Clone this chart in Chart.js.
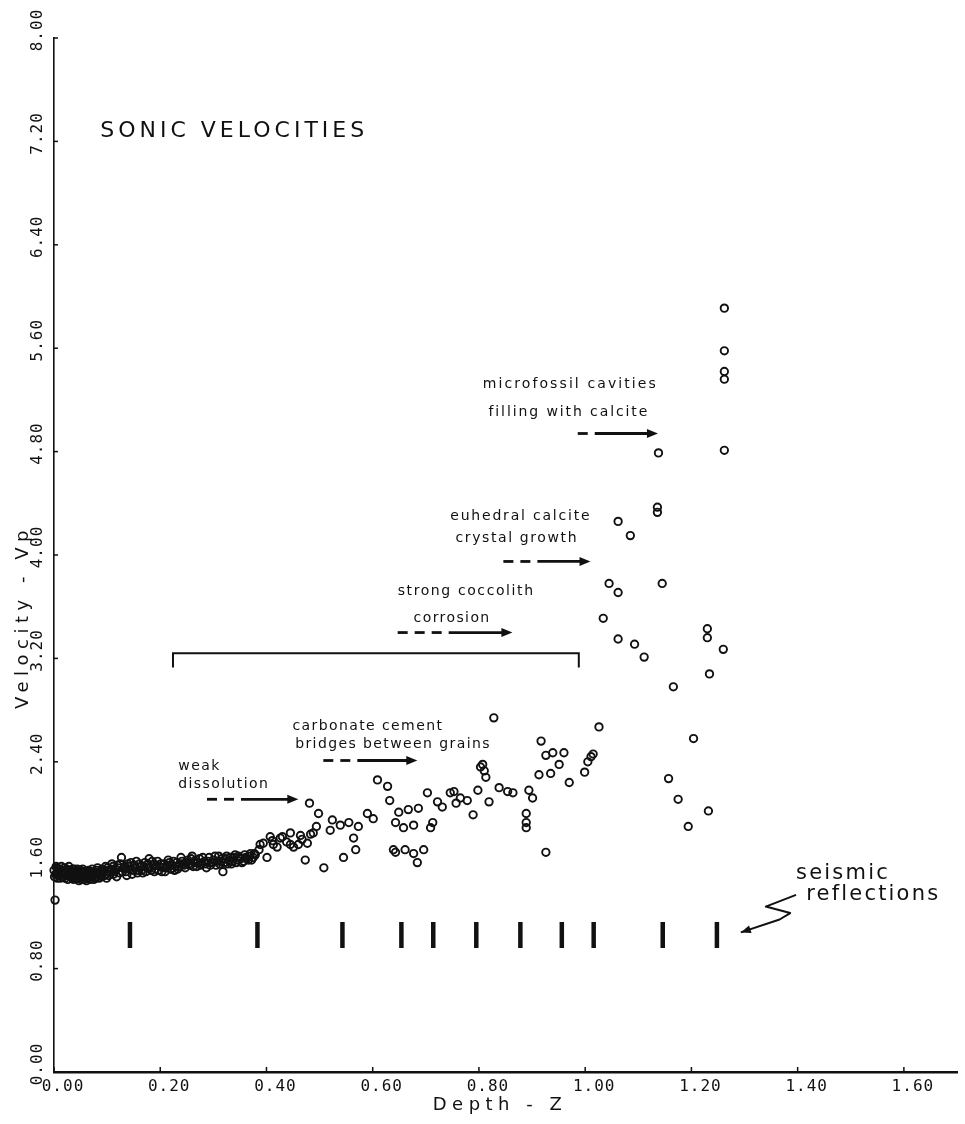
<!DOCTYPE html>
<html>
<head>
<meta charset="utf-8">
<title>Sonic velocities</title>
<script src="https://cdn.jsdelivr.net/npm/chart.js@4.4.1/dist/chart.umd.min.js"></script>
<style>
  html, body { margin: 0; padding: 0; background: #fff; }
  #wrap { width: 965px; height: 1124px; }
</style>
</head>
<body>
<div id="wrap"><canvas id="chart" width="965" height="1124"></canvas></div>
<script>
// Sonic velocity Vp (km/s) against depth Z, grouped by depth interval: [depth, velocity]
const oozeTop = [
  [0.002,1.33],[0.000,1.56],[0.003,1.53],[0.005,1.58],[0.007,1.55],[0.009,1.52],[0.011,1.57],
  [0.013,1.54],[0.016,1.56],[0.018,1.51],[0.020,1.58],[0.022,1.54],[0.025,1.52],[0.027,1.56],
  [0.029,1.53],[0.031,1.55],[0.034,1.50],[0.036,1.54],[0.038,1.57],[0.041,1.52],[0.043,1.55],
  [0.045,1.50],[0.048,1.53],[0.050,1.56],[0.052,1.51],[0.055,1.54],[0.057,1.49],[0.059,1.52],
  [0.062,1.55],[0.064,1.50],[0.066,1.53],[0.069,1.51],[0.071,1.55],[0.073,1.52],[0.076,1.54],
  [0.078,1.50],[0.081,1.56],[0.083,1.53],[0.086,1.55],[0.088,1.52],[0.091,1.57],[0.093,1.54],
  [0.096,1.56],[0.098,1.53],
  [0.001,1.51],[0.004,1.59],[0.006,1.50],[0.008,1.57],[0.012,1.50],[0.014,1.59],[0.017,1.53],
  [0.019,1.56],[0.021,1.50],[0.024,1.57],[0.026,1.49],[0.028,1.59],[0.032,1.51],[0.035,1.57],
  [0.037,1.49],[0.040,1.55],[0.042,1.50],[0.044,1.57],[0.047,1.48],[0.049,1.55],[0.051,1.49],
  [0.054,1.57],[0.056,1.52],[0.058,1.55],[0.061,1.48],[0.063,1.53],[0.065,1.56],[0.068,1.49],
  [0.070,1.53],[0.072,1.57],[0.075,1.49],[0.077,1.53],[0.080,1.51],[0.082,1.58],[0.085,1.50],
  [0.087,1.54],[0.090,1.51],[0.092,1.55],[0.095,1.52],[0.097,1.59],[0.099,1.50]
];
const oozeUpper = [
  [0.101,1.58],[0.105,1.55],[0.109,1.61],[0.112,1.53],[0.116,1.57],[0.120,1.60],[0.123,1.54],
  [0.127,1.66],[0.131,1.58],[0.135,1.55],[0.139,1.61],[0.143,1.57],[0.147,1.53],[0.151,1.60],
  [0.155,1.63],[0.159,1.56],[0.163,1.59],[0.167,1.54],[0.171,1.62],[0.175,1.58],[0.179,1.65],
  [0.183,1.56],[0.187,1.60],[0.191,1.57],[0.195,1.63],[0.199,1.59],[0.203,1.55],[0.207,1.61],
  [0.211,1.58],[0.215,1.64],[0.219,1.57],[0.223,1.60],[0.227,1.56],[0.231,1.62],[0.235,1.59],
  [0.239,1.66],[0.243,1.61],[0.247,1.58],
  [0.103,1.52],[0.107,1.57],[0.111,1.59],[0.114,1.55],[0.118,1.51],[0.122,1.58],[0.125,1.61],
  [0.129,1.55],[0.133,1.59],[0.137,1.52],[0.141,1.59],[0.145,1.62],[0.149,1.56],[0.153,1.58],
  [0.157,1.54],[0.161,1.61],[0.165,1.56],[0.169,1.59],[0.173,1.55],[0.177,1.61],[0.181,1.58],
  [0.185,1.63],[0.189,1.55],[0.193,1.60],[0.197,1.56],[0.201,1.61],[0.205,1.58],[0.209,1.55],
  [0.213,1.60],[0.217,1.62],[0.221,1.57],[0.225,1.63],[0.229,1.59],[0.233,1.57],[0.237,1.61],
  [0.241,1.63],[0.245,1.60],[0.249,1.62]
];
const oozeLower = [
  [0.252,1.64],[0.256,1.60],[0.260,1.67],[0.265,1.62],[0.269,1.59],[0.274,1.65],[0.278,1.61],
  [0.283,1.63],[0.287,1.58],[0.292,1.66],[0.296,1.62],[0.301,1.64],[0.305,1.60],[0.310,1.67],
  [0.314,1.63],[0.318,1.55],[0.323,1.65],[0.327,1.61],[0.332,1.66],[0.336,1.63],[0.341,1.68],
  [0.345,1.64],[0.350,1.66],[0.354,1.62],[0.359,1.68],[0.363,1.65],[0.368,1.67],[0.372,1.64],
  [0.377,1.69],
  [0.254,1.61],[0.258,1.65],[0.262,1.59],[0.267,1.64],[0.271,1.62],[0.276,1.60],[0.280,1.66],
  [0.285,1.61],[0.290,1.63],[0.294,1.60],[0.299,1.62],[0.303,1.67],[0.307,1.63],[0.312,1.61],
  [0.316,1.65],[0.321,1.62],[0.325,1.67],[0.330,1.63],[0.334,1.61],[0.338,1.66],[0.343,1.62],
  [0.347,1.67],[0.352,1.65],[0.357,1.63],[0.361,1.66],[0.366,1.64],[0.370,1.69],[0.375,1.66],
  [0.379,1.68]
];
const chalkUpper = [
  [0.386,1.72],[0.388,1.76],[0.394,1.77],[0.401,1.66],[0.407,1.82],[0.411,1.79],[0.413,1.76],
  [0.420,1.74],[0.426,1.81],[0.430,1.82],[0.438,1.78],[0.445,1.85],[0.445,1.76],[0.451,1.74],
  [0.460,1.76],[0.464,1.83],[0.467,1.80],[0.473,1.64],[0.477,1.77],[0.481,2.08],[0.483,1.84],
  [0.488,1.85],[0.494,1.90],[0.498,2.00],[0.508,1.58],[0.520,1.87],[0.524,1.95],[0.539,1.91],
  [0.545,1.66],[0.555,1.93],[0.564,1.81],[0.568,1.72],[0.573,1.90],[0.590,2.00],[0.601,1.96]
];
const chalkMiddle = [
  [0.609,2.26],[0.628,2.21],[0.632,2.10],[0.639,1.72],[0.643,1.93],[0.643,1.70],[0.649,2.01],
  [0.658,1.89],[0.661,1.72],[0.667,2.03],[0.677,1.91],[0.677,1.69],[0.684,1.62],[0.686,2.04],
  [0.696,1.72],[0.703,2.16],[0.709,1.89],[0.713,1.93],[0.722,2.09],[0.731,2.05],[0.746,2.16],
  [0.753,2.17],[0.757,2.08],[0.765,2.12],[0.778,2.10],[0.789,1.99],[0.798,2.18],[0.803,2.36],
  [0.807,2.38],[0.810,2.33],[0.813,2.28],[0.819,2.09],[0.828,2.74],[0.838,2.20],[0.854,2.17],
  [0.864,2.16],[0.889,2.00],[0.889,1.93],[0.889,1.89],[0.894,2.18],[0.901,2.12]
];
const chalkLower = [
  [0.913,2.30],[0.917,2.56],[0.926,2.45],[0.926,1.70],[0.935,2.31],[0.939,2.47],[0.951,2.38],
  [0.960,2.47],[0.970,2.24],[0.999,2.32],[1.005,2.40],[1.011,2.44],[1.015,2.46],[1.026,2.67]
];
const limestone = [
  [1.034,3.51],[1.045,3.78],[1.062,3.71],[1.062,3.35],[1.062,4.26],[1.085,4.15],[1.093,3.31],
  [1.111,3.21],[1.136,4.37],[1.136,4.33],[1.138,4.79],[1.145,3.78],[1.157,2.27],[1.166,2.98],
  [1.175,2.11],[1.194,1.90],[1.204,2.58],[1.230,3.43],[1.230,3.36],[1.232,2.02],[1.234,3.08],
  [1.260,3.27],[1.262,4.81],[1.262,5.36],[1.262,5.42],[1.262,5.58],[1.262,5.91]
];

// Depths of the seismic reflectors, plotted as bars at a fixed velocity level
const reflectionDepth = [0.143, 0.383, 0.543, 0.654, 0.714, 0.795, 0.878, 0.956, 1.016, 1.146, 1.248];
const reflectionLevel = 1.06;

// Axis tick labels
const depthTickLabels = ['0.00', '0.20', '0.40', '0.60', '0.80', '1.00', '1.20', '1.40', '1.60'];
const velocityTickLabels = ['0.00', '0.80', '1.60', '2.40', '3.20', '4.00', '4.80', '5.60', '6.40', '7.20', '8.00'];

const samples = [].concat(oozeTop, oozeUpper, oozeLower, chalkUpper, chalkMiddle, chalkLower, limestone);

const INK = '#111111';
const NOTE_FONT = '14px "DejaVu Sans"';

// Text notes, placed in data units (left edge, baseline)
const notes = [
  { text: 'SONIC VELOCITIES', x: 0.087, y: 7.234, font: '22px "DejaVu Sans"', spacing: 4 },
  { text: 'microfossil cavities', x: 0.807, y: 5.292, spacing: 2.1 },
  { text: 'filling with calcite', x: 0.818, y: 5.075, spacing: 1.9 },
  { text: 'euhedral calcite', x: 0.746, y: 4.271, spacing: 1.8 },
  { text: 'crystal growth', x: 0.756, y: 4.101, spacing: 1.6 },
  { text: 'strong coccolith', x: 0.647, y: 3.690, spacing: 1.6 },
  { text: 'corrosion', x: 0.677, y: 3.482 },
  { text: 'carbonate cement', x: 0.449, y: 2.646 },
  { text: 'bridges between grains', x: 0.454, y: 2.507 },
  { text: 'weak', x: 0.234, y: 2.337 },
  { text: 'dissolution', x: 0.234, y: 2.197 },
  { text: 'seismic', x: 1.397, y: 1.493, font: '21px "DejaVu Sans"', spacing: 2.2 },
  { text: 'reflections', x: 1.416, y: 1.331, font: '21px "DejaVu Sans"', spacing: 2.2 }
];

// Dashed arrows: start depth, tip depth, velocity level, number of short dashes before the shaft
const arrows = [
  { from: 0.986, to: 1.137, y: 4.94, dashes: 1 },
  { from: 0.846, to: 1.010, y: 3.95, dashes: 2 },
  { from: 0.647, to: 0.863, y: 3.40, dashes: 3 },
  { from: 0.507, to: 0.684, y: 2.41, dashes: 2 },
  { from: 0.288, to: 0.460, y: 2.11, dashes: 2 }
];

// Bracket spanning the diagenetic zone, and the wavy pointer to the reflectors
const bracket = [[0.224, 3.13], [0.224, 3.24], [0.988, 3.24], [0.988, 3.13]];
const pointer = [[1.397, 1.37], [1.340, 1.28], [1.386, 1.23], [1.366, 1.18], [1.293, 1.08]];

function drawHead(ctx, x0, y0, x1, y1, len, half) {
  const a = Math.atan2(y1 - y0, x1 - x0);
  ctx.beginPath();
  ctx.moveTo(x1, y1);
  ctx.lineTo(x1 - len * Math.cos(a) + half * Math.sin(a), y1 - len * Math.sin(a) - half * Math.cos(a));
  ctx.lineTo(x1 - len * Math.cos(a) - half * Math.sin(a), y1 - len * Math.sin(a) + half * Math.cos(a));
  ctx.closePath();
  ctx.fill();
}

const paperPlugin = {
  id: 'paper',
  beforeDraw(chart) {
    const ctx = chart.ctx;
    ctx.save();
    ctx.fillStyle = '#ffffff';
    ctx.fillRect(0, 0, chart.width, chart.height);
    ctx.restore();
  }
};

const inkPlugin = {
  id: 'ink',
  afterDraw(chart) {
    const { ctx, chartArea: area, scales: { x, y } } = chart;
    ctx.save();
    ctx.fillStyle = INK;
    ctx.strokeStyle = INK;

    // inward tick marks
    ctx.lineWidth = 1.5;
    depthTickLabels.forEach(t => {
      const px = x.getPixelForValue(parseFloat(t));
      ctx.beginPath(); ctx.moveTo(px, area.bottom); ctx.lineTo(px, area.bottom - 5); ctx.stroke();
    });
    velocityTickLabels.forEach(t => {
      const py = y.getPixelForValue(parseFloat(t));
      ctx.beginPath(); ctx.moveTo(area.left, py); ctx.lineTo(area.left + 4, py); ctx.stroke();
    });

    // tick labels
    ctx.font = '16px "DejaVu Sans Mono"';
    ctx.letterSpacing = '1px';
    ctx.textAlign = 'center';
    ctx.textBaseline = 'middle';
    depthTickLabels.forEach(t => {
      const px = x.getPixelForValue(parseFloat(t));
      ctx.fillText(t, px + 9, area.bottom + 15);
    });
    velocityTickLabels.forEach(t => {
      const py = y.getPixelForValue(parseFloat(t));
      ctx.save();
      ctx.translate(area.left - 16, py - 8);
      ctx.rotate(-Math.PI / 2);
      ctx.fillText(t, 0, 0);
      ctx.restore();
    });

    // axis titles
    ctx.font = '18px "DejaVu Sans"';
    ctx.letterSpacing = '5.5px';
    ctx.fillText('Depth - Z', 500, area.bottom + 33);
    ctx.save();
    ctx.translate(23, 617);
    ctx.rotate(-Math.PI / 2);
    ctx.fillText('Velocity - Vp', 0, 0);
    ctx.restore();

    // notes
    ctx.textAlign = 'left';
    ctx.textBaseline = 'alphabetic';
    notes.forEach(n => {
      ctx.font = n.font || NOTE_FONT;
      ctx.letterSpacing = (n.spacing !== undefined ? n.spacing : 1.4) + 'px';
      ctx.fillText(n.text, x.getPixelForValue(n.x), y.getPixelForValue(n.y));
    });
    ctx.letterSpacing = '0px';

    // dashed arrows
    arrows.forEach(a => {
      const p0 = x.getPixelForValue(a.from);
      const p1 = x.getPixelForValue(a.to);
      const py = y.getPixelForValue(a.y);
      ctx.lineWidth = 2.8;
      for (let i = 0; i < a.dashes; i++) {
        ctx.beginPath();
        ctx.moveTo(p0 + i * 17, py);
        ctx.lineTo(p0 + i * 17 + 10, py);
        ctx.stroke();
      }
      ctx.beginPath();
      ctx.moveTo(p0 + a.dashes * 17, py);
      ctx.lineTo(p1 - 6, py);
      ctx.stroke();
      drawHead(ctx, p0, py, p1, py, 11, 4.5);
    });

    // bracket
    ctx.lineWidth = 2;
    ctx.beginPath();
    bracket.forEach((p, i) => {
      const px = x.getPixelForValue(p[0]);
      const py = y.getPixelForValue(p[1]);
      if (i === 0) ctx.moveTo(px, py); else ctx.lineTo(px, py);
    });
    ctx.stroke();

    // wavy pointer to the reflectors
    ctx.lineWidth = 2;
    ctx.lineJoin = 'round';
    const pts = pointer.map(p => [x.getPixelForValue(p[0]), y.getPixelForValue(p[1])]);
    ctx.beginPath();
    pts.forEach((p, i) => { if (i === 0) ctx.moveTo(p[0], p[1]); else ctx.lineTo(p[0], p[1]); });
    ctx.stroke();
    const n = pts.length;
    drawHead(ctx, pts[n - 2][0], pts[n - 2][1], pts[n - 1][0], pts[n - 1][1], 10, 4);

    ctx.restore();
  }
};

new Chart(document.getElementById('chart'), {
  type: 'scatter',
  data: {
    datasets: [
      {
        label: 'Vp',
        data: samples.map(s => ({ x: s[0], y: s[1] })),
        pointStyle: 'circle',
        pointRadius: 3.7,
        pointHoverRadius: 3.7,
        borderWidth: 1.9,
        borderColor: INK,
        backgroundColor: 'rgba(0,0,0,0)',
        clip: false
      },
      {
        label: 'seismic reflections',
        data: reflectionDepth.map(d => ({ x: d, y: reflectionLevel })),
        pointStyle: 'line',
        rotation: 90,
        pointRadius: 13,
        pointHoverRadius: 13,
        borderWidth: 4.5,
        borderColor: INK,
        backgroundColor: INK
      }
    ]
  },
  options: {
    responsive: false,
    animation: false,
    devicePixelRatio: 1,
    events: [],
    layout: { autoPadding: false, padding: { left: 0, top: 38, right: 8, bottom: 0 } },
    plugins: {
      legend: { display: false },
      tooltip: { enabled: false },
      title: { display: false }
    },
    scales: {
      x: {
        type: 'linear',
        min: 0,
        max: 1.70,
        grid: { display: false },
        border: { display: true, color: INK, width: 2.4 },
        ticks: { display: false },
        afterFit(scale) { scale.height = 52; }
      },
      y: {
        type: 'linear',
        min: 0,
        max: 8,
        grid: { display: false },
        border: { display: true, color: INK, width: 1.6 },
        ticks: { display: false },
        afterFit(scale) { scale.width = 54; }
      }
    }
  },
  plugins: [paperPlugin, inkPlugin]
});
</script>
</body>
</html>
